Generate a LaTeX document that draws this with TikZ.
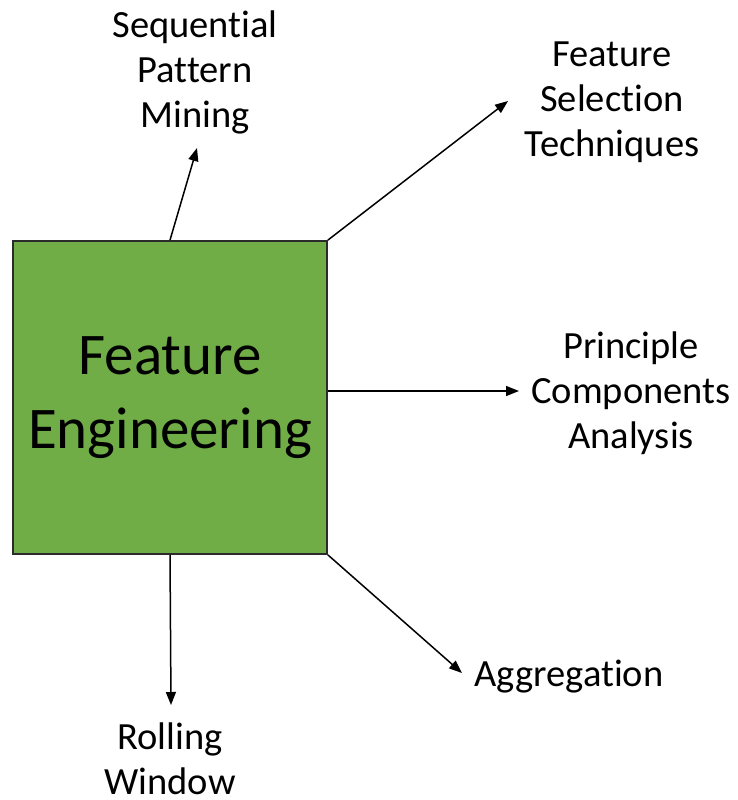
\documentclass[tikz,border=0pt]{standalone}
\usepackage{fontspec}
\setmainfont{Carlito}[Ligatures={NoCommon}]
\usetikzlibrary{arrows.meta}
\definecolor{boxgreen}{HTML}{70AD47}
\definecolor{boxedge}{HTML}{2B2B2B}
\begin{document}
\begin{tikzpicture}[x=1pt,y=-1pt,
  mainbox/.style={draw=boxedge,line width=1.8pt,fill=boxgreen,minimum width=314pt,minimum height=313pt,inner sep=0pt,align=center,font=\fontsize{59}{74}\selectfont},
  lbl/.style={align=center,inner sep=0pt,font=\fontsize{38.5}{45}\selectfont},
  conn/.style={line width=1.5pt,-{Triangle[length=13pt,width=10pt]}}]
\useasboundingbox (0,0) rectangle (737,800);
\node[mainbox] (fe) at (170,397.5) {Feature\\Engineering};
\coordinate (e1) at (197,148);
\coordinate (e2) at (508,101);
\coordinate (e3) at (519,391);
\coordinate (e4) at (462,673);
\coordinate (e5) at (171,705);
\node[lbl] (t1) at (195,72) {Sequential\\Pattern\\Mining};
\node[lbl] (t2) at (612,102) {Feature\\Selection\\Techniques};
\node[lbl] (t3) at (631,393) {Principle\\Components\\Analysis};
\node[lbl] (t4) at (569,677) {Aggregation};
\node[lbl] (t5) at (170,759) {Rolling\\Window};
\draw[conn] (fe.north) -- (e1);
\draw[conn] (fe.north east) -- (e2);
\draw[conn] ([yshift=6.5pt]fe.east) -- (e3);
\draw[conn] (fe.south east) -- (e4);
\draw[conn] (fe.south) -- (e5);
\end{tikzpicture}
\end{document}
